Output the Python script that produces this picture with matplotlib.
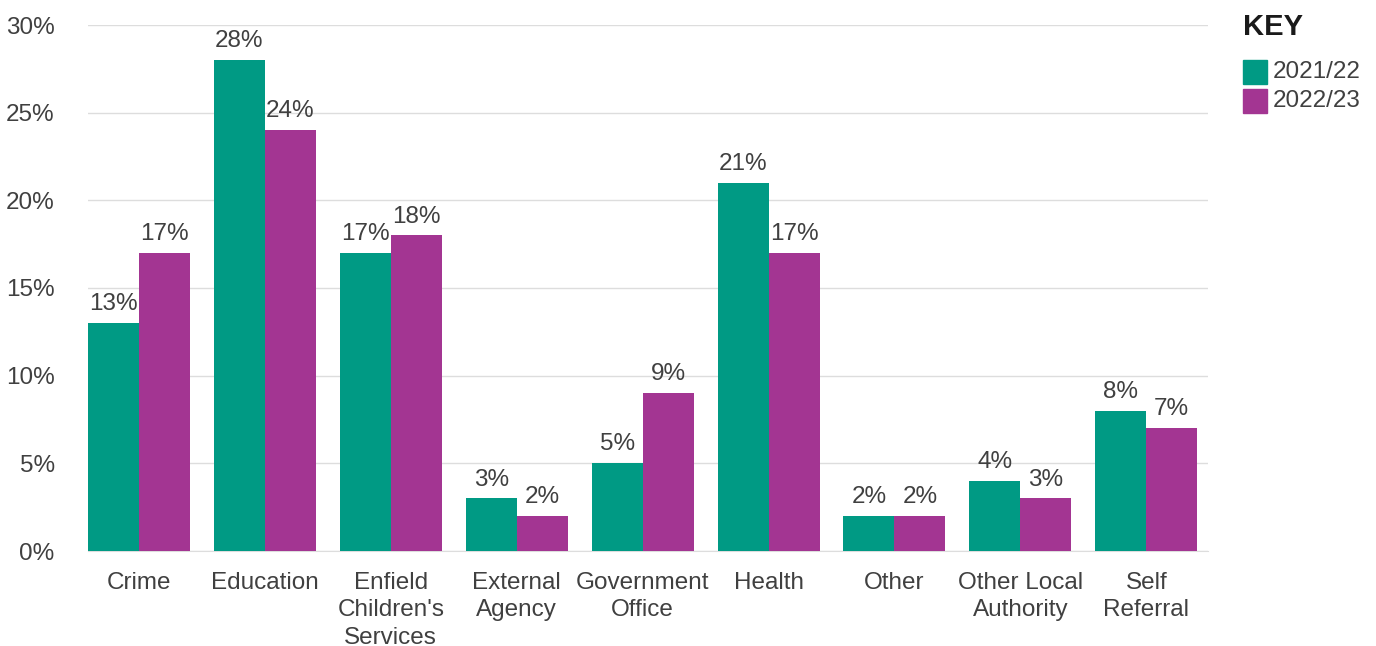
import matplotlib
matplotlib.use("Agg")
import matplotlib.pyplot as plt
import numpy as np
from matplotlib.patches import Rectangle

categories = ["Crime", "Education", "Enfield\nChildren's\nServices", "External\nAgency",
              "Government\nOffice", "Health", "Other", "Other Local\nAuthority", "Self\nReferral"]
series_names = ["2021/22", "2022/23"]
values_2122 = [13, 28, 17, 3, 5, 21, 2, 4, 8]
values_2223 = [17, 24, 18, 2, 9, 17, 2, 3, 7]
yticks = [0, 5, 10, 15, 20, 25, 30]

colors = ["#009A84", "#A33592"]
text_color = "#404040"
plt.rcParams['font.family'] = ['Liberation Sans', 'DejaVu Sans']
FS = 17.5

fig = plt.figure(figsize=(13.76, 6.46), dpi=100)
ax = fig.add_axes([88/1376, 1-551/646, (1208-88)/1376, (551-25)/646])

x = np.arange(len(categories))
w = 0.405
for i, (vals, c) in enumerate(zip([values_2122, values_2223], colors)):
    xs = x + (i - 0.5) * w
    ax.bar(xs, vals, width=w, color=c, zorder=3, linewidth=0)
    for xi, v in zip(xs, vals):
        ax.text(xi, v + 0.45, f"{v}%", ha="center", va="bottom", fontsize=FS, color=text_color)

ax.set_xlim(-0.405, 8.49)
ax.set_ylim(0, 30)
ax.set_yticks(yticks)
ax.set_yticklabels([f"{t}%" for t in yticks], fontsize=FS, color=text_color)
ax.yaxis.grid(True, color="#dddddd", linewidth=1, zorder=0)
ax.set_xticks(x)
ax.set_xticklabels(categories, fontsize=FS, color=text_color, linespacing=1.33)
ax.tick_params(axis="both", length=0)
ax.tick_params(axis="x", pad=15)
ax.tick_params(axis="y", pad=24)
for s in ["top", "right", "left"]:
    ax.spines[s].set_visible(False)
ax.spines["bottom"].set_color("#dddddd")

# Legend
fig.text(1243/1376, 1-27/646, "KEY", fontsize=21, fontweight="bold", color="#1a1a1a", va="center", ha="left")
for i, (name, c) in enumerate(zip(series_names, colors)):
    ytop = 60 + i * 29
    fig.patches.append(Rectangle((1243/1376, 1-(ytop+24)/646), 24/1376, 24/646,
                                 transform=fig.transFigure, color=c, figure=fig))
    fig.text(1273/1376, 1-(ytop+12)/646, name, fontsize=FS, color=text_color, va="center", ha="left")

fig.savefig("out.png", dpi=100)
